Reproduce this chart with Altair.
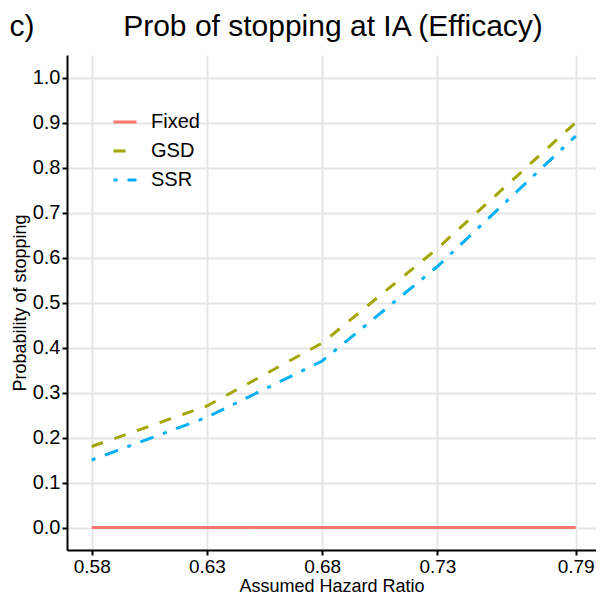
import altair as alt
import pandas as pd

hr = [0.58, 0.63, 0.68, 0.73, 0.79]
fixed = [0.0, 0.0, 0.0, 0.0, 0.0]
gsd = [0.18, 0.27, 0.41, 0.62, 0.90]
ssr = [0.15, 0.245, 0.37, 0.58, 0.87]
designs = ["Fixed", "GSD", "SSR"]
colors = ["#F8766D", "#A3A500", "#00B0F6"]
dashes = [[1, 0], [12, 12], [4, 10, 14, 10]]
x_ticks = [0.58, 0.63, 0.68, 0.73, 0.79]
y_ticks = [0.0, 0.1, 0.2, 0.3, 0.4, 0.5, 0.6, 0.7, 0.8, 0.9, 1.0]
title_text = "Prob of stopping at IA (Efficacy)"
tag_text = "c)"

rows = []
for name, vals in zip(designs, [fixed, gsd, ssr]):
    for x, y in zip(hr, vals):
        rows.append({"hr": x, "prob": y, "design": name})
df = pd.DataFrame(rows)

FONT = "Liberation Sans"

leg = dict(orient="none", legendX=45, legendY=54, symbolType="stroke",
           symbolSize=529, symbolStrokeWidth=3, labelFontSize=20, labelFont=FONT,
           labelColor="black", rowPadding=6, labelOffset=13, title=None)

lines = alt.Chart(df).mark_line(strokeWidth=3, strokeCap="butt").encode(
    x=alt.X("hr:Q", title="Assumed Hazard Ratio",
            scale=alt.Scale(domain=[0.56928, 0.79881], nice=False, zero=False),
            axis=alt.Axis(values=x_ticks, format=".2f")),
    y=alt.Y("prob:Q", title="Probability of stopping",
            scale=alt.Scale(domain=[-0.05, 1.05], nice=False, zero=False),
            axis=alt.Axis(values=y_ticks, format=".1f")),
    color=alt.Color("design:N", title=None,
                    scale=alt.Scale(domain=designs, range=colors),
                    legend=alt.Legend(**leg)),
    strokeDash=alt.StrokeDash("design:N", title=None,
                              scale=alt.Scale(domain=designs, range=dashes),
                              legend=alt.Legend(**leg)),
    order=alt.Order("hr:Q"),
)

texts = pd.DataFrame({"t": [tag_text, title_text]})
tag = alt.Chart(texts).transform_filter(alt.datum.t == tag_text).mark_text(
    fontSize=30, font=FONT, align="center", baseline="alphabetic", color="black"
).encode(x=alt.value(-45), y=alt.value(-19), text="t:N")
ttl = alt.Chart(texts).transform_filter(alt.datum.t == title_text).mark_text(
    fontSize=30, font=FONT, align="center", baseline="alphabetic", color="black"
).encode(x=alt.value(266), y=alt.value(-19), text="t:N")

chart = alt.layer(lines, tag, ttl).properties(
    width=529, height=495,
    autosize=alt.AutoSizeParams(type="none"),
    padding={"left": 59, "top": 47, "right": 0, "bottom": 49},
).configure_view(stroke=None).configure_axis(
    domainColor="black", domainWidth=2, tickColor="black", tickWidth=2, tickSize=5,
    gridColor="#E5E5E5", gridWidth=2, labelFont=FONT,
    labelColor="black", titleFont=FONT, titleFontWeight="normal",
    titleColor="black"
).configure_axisX(titlePadding=1, labelPadding=2, labelFontSize=19, titleFontSize=18
).configure_axisY(titlePadding=3, labelPadding=2, labelFontSize=20, titleFontSize=18)

chart.save("out.html", embed_options={"renderer": "svg", "actions": False})
